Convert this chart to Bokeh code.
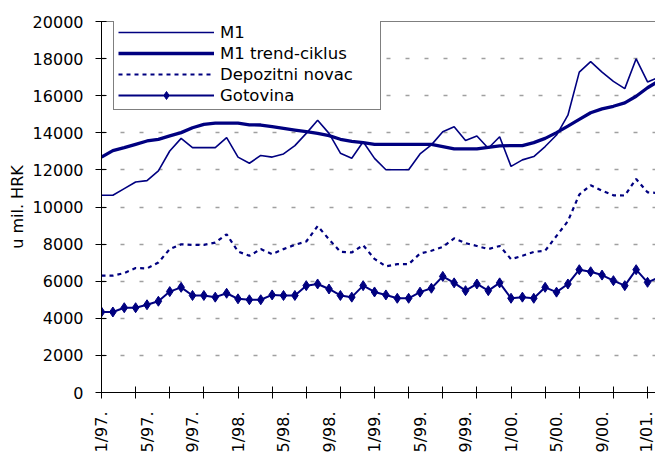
import numpy as np
from bokeh.plotting import figure
from bokeh.models import FixedTicker, Legend, LegendItem, Span, Range1d
from bokeh.embed import file_html
from bokeh.resources import INLINE

# ---- data -------------------------------------------------------------
months = ["1/97.", "2/97.", "3/97.", "4/97.", "5/97.", "6/97.", "7/97.", "8/97.", "9/97.", "10/97.", "11/97.", "12/97.",
          "1/98.", "2/98.", "3/98.", "4/98.", "5/98.", "6/98.", "7/98.", "8/98.", "9/98.", "10/98.", "11/98.", "12/98.",
          "1/99.", "2/99.", "3/99.", "4/99.", "5/99.", "6/99.", "7/99.", "8/99.", "9/99.", "10/99.", "11/99.", "12/99.",
          "1/00.", "2/00.", "3/00.", "4/00.", "5/00.", "6/00.", "7/00.", "8/00.", "9/00.", "10/00.", "11/00.", "12/00.",
          "1/01.", "2/01."]

m1 = [10630, 10630, 10990, 11350, 11420, 11950, 13020, 13700, 13200, 13200, 13200, 13740,
      12690, 12360, 12780, 12690, 12860, 13310, 13970, 14680, 13970, 12900, 12630, 13520,
      12620, 12010, 12010, 12010, 12860, 13350, 14060, 14330, 13580, 13830, 13170, 13790,
      12190, 12540, 12720, 13260, 13880, 14950, 17270, 17840, 17270, 16770, 16380, 17990,
      16740, 17000]

m1_trend = [12690, 13040, 13200, 13380, 13560, 13650, 13830, 14010, 14270, 14450, 14520, 14520,
            14520, 14430, 14420, 14330, 14240, 14150, 14060, 13970, 13850, 13650, 13540, 13470,
            13380, 13380, 13380, 13380, 13380, 13380, 13260, 13130, 13130, 13130, 13220, 13290,
            13310, 13310, 13470, 13700, 14010, 14360, 14720, 15080, 15290, 15430, 15610, 15970,
            16430, 16800]

depozitni = [6300, 6300, 6440, 6710, 6690, 7010, 7730, 7990, 7960, 7960, 8080, 8530,
             7600, 7370, 7730, 7460, 7730, 7960, 8140, 8970, 8260, 7580, 7550, 7940,
             7200, 6800, 6920, 6920, 7490, 7640, 7850, 8310, 8050, 7900, 7730, 7900,
             7190, 7370, 7580, 7640, 8440, 9240, 10670, 11170, 10880, 10630, 10620, 11510,
             10790, 10750]

gotovina = [4340, 4340, 4570, 4570, 4730, 4920, 5440, 5670, 5230, 5230, 5140, 5350,
            5050, 5000, 5000, 5260, 5230, 5230, 5760, 5850, 5580, 5230, 5140, 5760,
            5420, 5260, 5080, 5080, 5410, 5620, 6260, 5910, 5490, 5850, 5490, 5910,
            5080, 5140, 5080, 5670, 5410, 5850, 6620, 6510, 6330, 6030, 5760, 6620,
            5940, 6200]

tick_labels = ["1/97.", "5/97.", "9/97.", "1/98.", "5/98.", "9/98.", "1/99.",
               "5/99.", "9/99.", "1/00.", "5/00.", "9/00.", "1/01."]
y_ticks = [0, 2000, 4000, 6000, 8000, 10000, 12000, 14000, 16000, 18000, 20000]
series_names = ["M1", "M1 trend-ciklus", "Depozitni novac", "Gotovina"]
y_title = "u mil. HRK"

# ---- figure -----------------------------------------------------------
NAVY = "#000080"
FONT = "DejaVu Sans"
x = list(range(len(months)))
label_pos = [months.index(t) for t in tick_labels]
minor_pos = list(range(0, 49, 3))

p = figure(width=655, height=455, output_backend="svg", toolbar_location=None,
           x_range=Range1d(0, 48.7), y_range=Range1d(0, 20000),
           min_border_left=101, min_border_top=21, min_border_bottom=61, min_border_right=0)
p.outline_line_color = None
p.background_fill_color = "white"
p.border_fill_color = "white"

p.xgrid.visible = False
p.ygrid.grid_line_color = "#a0a0a0"
p.ygrid.grid_line_dash = "4 15"
p.ygrid.grid_line_width = 1.5

# y axis
p.yaxis.ticker = FixedTicker(ticks=y_ticks)
p.yaxis.major_tick_in = 5
p.yaxis.major_tick_out = 6
p.yaxis.minor_tick_line_color = None
p.yaxis.major_label_standoff = 12
p.yaxis.major_label_text_font = FONT
p.yaxis.major_label_text_font_size = "16px"
p.yaxis.major_label_text_color = "black"
p.yaxis.axis_label = y_title
p.yaxis.axis_label_text_font = FONT
p.yaxis.axis_label_text_font_size = "16px"
p.yaxis.axis_label_text_font_style = "normal"
p.yaxis.axis_label_text_color = "black"
p.yaxis.axis_label_standoff = 3
p.yaxis.axis_line_color = "black"
p.yaxis.major_tick_line_color = "black"

# x axis
p.xaxis.ticker = FixedTicker(ticks=label_pos, minor_ticks=minor_pos)
p.xaxis.major_tick_in = 0
p.xaxis.major_tick_out = 0
p.xaxis.minor_tick_in = 6
p.xaxis.minor_tick_out = 6
p.xaxis.minor_tick_line_color = "black"
p.xaxis.major_label_overrides = {pos: lab for pos, lab in zip(label_pos, tick_labels)}
p.xaxis.major_label_orientation = np.pi / 2
p.xaxis.major_label_standoff = 13
p.xaxis.major_label_text_font = FONT
p.xaxis.major_label_text_font_size = "16px"
p.xaxis.major_label_text_color = "black"
p.xaxis.axis_line_color = "black"

# top border of plot area
p.add_layout(Span(location=20000, dimension="width", line_color="black", line_width=1))

r_m1 = p.line(x, m1, line_color=NAVY, line_width=1.6)
r_dep = p.line(x, depozitni, line_color=NAVY, line_width=2.2, line_dash="4 4")
r_got = p.line(x, gotovina, line_color=NAVY, line_width=2)
r_got_m = p.scatter(x, gotovina, marker="diamond", size=10, fill_color=NAVY, line_color=NAVY)
r_tr = p.line(x, m1_trend, line_color=NAVY, line_width=3.3)

legend = Legend(items=[
    LegendItem(label=series_names[0], renderers=[r_m1]),
    LegendItem(label=series_names[1], renderers=[r_tr]),
    LegendItem(label=series_names[2], renderers=[r_dep]),
    LegendItem(label=series_names[3], renderers=[r_got, r_got_m]),
], location=(12, 282))
legend.margin = 0
legend.padding = 4
legend.spacing = 1
legend.glyph_width = 96
legend.glyph_height = 20
legend.label_height = 20
legend.label_width = 156
legend.label_standoff = 6
legend.label_text_font = FONT
legend.label_text_font_size = "16.5px"
legend.label_text_color = "black"
legend.border_line_color = "black"
legend.border_line_width = 1
legend.background_fill_color = "white"
legend.background_fill_alpha = 1
p.add_layout(legend)

open("out.html", "w").write(file_html(p, INLINE))
